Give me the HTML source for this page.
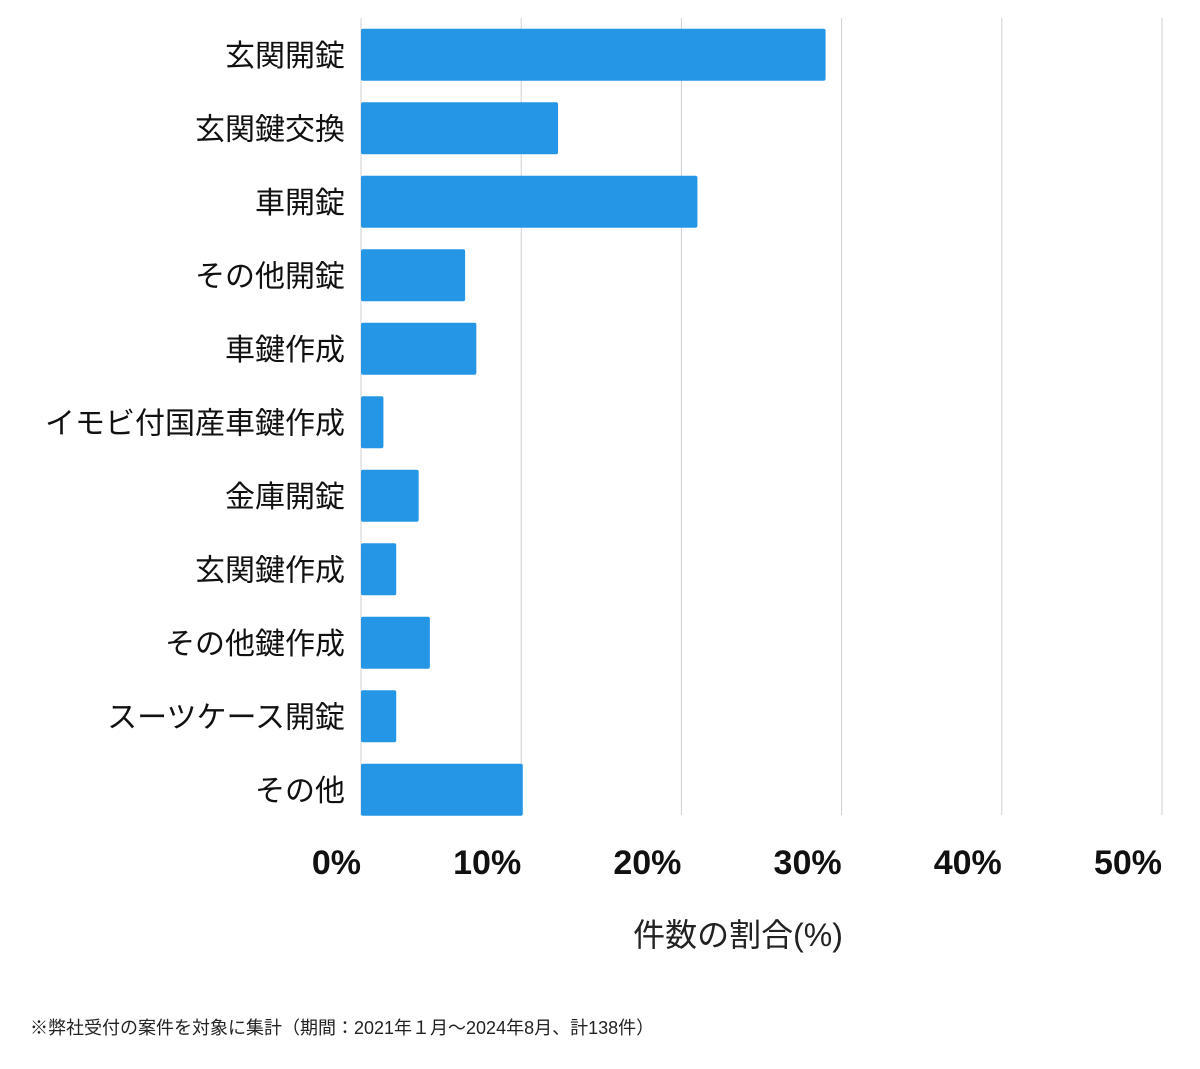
<!DOCTYPE html>
<html><head><meta charset="utf-8">
<style>
html,body{margin:0;padding:0;background:#fff;}
svg{display:block;font-family:"Liberation Sans","Noto Sans CJK JP",sans-serif;}
</style></head>
<body>
<svg id="chart" width="1200" height="1069" viewBox="0 0 1200 1069" xmlns="http://www.w3.org/2000/svg">
<g id="grid"></g>
<g id="bars"></g>
<g id="ylabels"></g>
<g id="xlabels"></g>
<text x="738" y="946" text-anchor="middle" font-size="32" fill="#222">件数の割合(%)</text>
<text x="30" y="1034" font-size="18" fill="#222">※弊社受付の案件を対象に集計（期間：2021年１月〜2024年8月、計138件）</text>
</svg>
<script>
const categories = ["玄関開錠","玄関鍵交換","車開錠","その他開錠","車鍵作成","イモビ付国産車鍵作成","金庫開錠","玄関鍵作成","その他鍵作成","スーツケース開錠","その他"];
const values = [29.0,12.3,21.0,6.5,7.2,1.4,3.6,2.2,4.3,2.2,10.1];
const ticks = [0,10,20,30,40,50];
const tickLabels = ["0%","10%","20%","30%","40%","50%"];

const NS="http://www.w3.org/2000/svg";
const x0=361,x1=1162,xmax=50;
const xs=v=>x0+(v/xmax)*(x1-x0);
const rowTop=18,rowH=73.5,barH=52;
const yc=i=>rowTop+rowH*i+rowH/2;
function mk(tag,attrs,parent){const e=document.createElementNS(NS,tag);for(const k in attrs)e.setAttribute(k,attrs[k]);parent.appendChild(e);return e;}
const grid=document.getElementById('grid'),bars=document.getElementById('bars'),yl=document.getElementById('ylabels'),xl=document.getElementById('xlabels');
ticks.forEach((t,i)=>{
  const l=mk('line',{x1:xs(t),x2:xs(t),y1:18,y2:815,stroke:'#d0d0d0','stroke-width':1},grid);
  
  
  const tx=mk('text',{x:xs(t),y:874,'text-anchor':'end','font-size':34,'font-weight':'bold',fill:'#111'},xl);
  tx.textContent=tickLabels[i];
  
  
});
categories.forEach((c,i)=>{
  const r=mk('rect',{x:x0,y:yc(i)-barH/2,width:xs(values[i])-x0,height:barH,fill:'#2596e6',rx:2},bars);
  
  
  const t=mk('text',{x:345,y:yc(i)+11,'text-anchor':'end','font-size':30,fill:'#111'},yl);
  t.textContent=c;
  
  
});
</script>
</body></html>
